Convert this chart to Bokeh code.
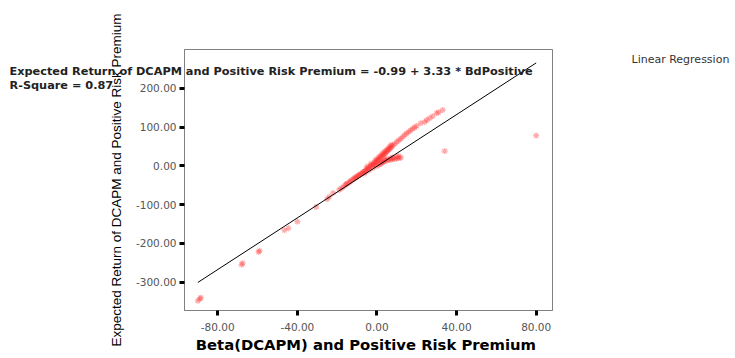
from bokeh.plotting import figure
from bokeh.models import Range1d, FixedTicker, NumeralTickFormatter, Label, ColumnDataSource
from bokeh.embed import file_html
from bokeh.resources import INLINE

# ---- data ----
beta_x = [
    -90, -89, -88.5, -68, -67.5, -59.5, -59, -46.5, -44.5, -40, -30.5, -25, -24, -22,
    -19, -18, -17, -16, -15.5, -15, -14, -13.5, -13, -12, -11.5, -11, -10.5, -10,
    -9.5, -9, -8.5, -8, -7.5, -7, -6.5, -6, -5.5, -5, -4.5, -4, -3.5, -3, -2.5, -2,
    -1.5, -1, -0.5, 0, 0.5, 1, 1.5, 2, 2.5, 3, 3.5, 4, 4.5, 5, 5.5, 6, 6.5, 7, 7.5,
    8, 9, 10, 11, 12, 13, 14, 15, 16, 17, 18, 19, 20,
    -6, -4, -2, 0, 2, -1, 1, 3, 4,
    -3, -1, 1, 3, 5, -5, 0, 2, 4, 6, 7,
    2, 3, 4, 5, 6, 7, 8, 9, 10, 11, 12, 8, 10, 11, 5, 7,
    22, 24, 25, 26.5, 28, 30, 31, 33,
    34, 80,
]
expected_y = [
    -348, -343, -340, -255, -251, -222, -219, -166, -161, -144, -106, -86, -80, -70,
    -62, -58, -55, -50, -47, -46, -43, -40, -38, -35, -33, -30, -30, -27,
    -26, -24, -22, -21, -18, -17, -15, -13, -10, -9, -6, -5, -2, 0, 2, 3,
    6, 8, 10, 12, 14, 17, 19, 22, 24, 27, 29, 32, 34, 37, 40, 42, 45, 47, 50,
    53, 57, 62, 66, 70, 75, 80, 84, 88, 92, 96, 99, 103,
    -19, -12, -6, -1, 5, 2, 3, 10, 15,
    6, 14, 23, 33, 42, -2, 18, 28, 38, 48, 54,
    8, 10, 12, 14, 15, 16, 17, 18, 19, 20, 21, 22, 24, 25, 18, 20,
    110, 113, 118, 123, 128, 136, 138, 144,
    38, 78,
]
intercept = -0.99
slope = 3.33
r_square = "0.87"
x_ticks = [-80, -40, 0, 40, 80]
y_ticks = [-300, -200, -100, 0, 100, 200]

W, H = 733, 355
p = figure(width=W, height=H, output_backend="svg", toolbar_location=None,
           x_range=Range1d(-96.7, 88.2), y_range=Range1d(-373, 300),
           min_border_left=184, min_border_right=181, min_border_top=49,
           min_border_bottom=39)
p.background_fill_color = "white"
p.border_fill_color = "white"
p.outline_line_color = "#808080"
p.outline_line_width = 1
p.grid.visible = False

src = ColumnDataSource(dict(x=beta_x, y=expected_y))
p.scatter("x", "y", source=src, marker="asterisk", size=6,
          line_color="#ff3030", line_alpha=0.4, line_width=1.3)

lx = [min(beta_x), max(beta_x)]
ly = [intercept + slope * v for v in lx]
p.line(lx, ly, line_color="black", line_width=1)

for ax in (p.xaxis[0], p.yaxis[0]):
    ax.axis_line_color = "#808080"
    ax.major_tick_line_color = "black"
    ax.major_tick_line_width = 3
    ax.major_tick_out = 5
    ax.major_tick_in = 0
    ax.minor_tick_line_color = None
    ax.major_label_text_font = "DejaVu Sans"
    ax.major_label_text_font_size = "10.5px"
    ax.major_label_text_color = "#555555"
    ax.formatter = NumeralTickFormatter(format="0.00")

p.xaxis.ticker = FixedTicker(ticks=x_ticks)
p.yaxis.ticker = FixedTicker(ticks=y_ticks)
p.xaxis.major_label_standoff = 7
p.yaxis.major_label_standoff = 3

p.xaxis.axis_label = "Beta(DCAPM) and  Positive Risk Premium"
p.xaxis.axis_label_text_font = "DejaVu Sans"
p.xaxis.axis_label_text_font_style = "bold"
p.xaxis.axis_label_text_font_size = "14.8px"
p.xaxis.axis_label_text_color = "black"
p.xaxis.axis_label_standoff = 2

p.yaxis.axis_label = "Expected Return of DCAPM and Positive Risk Premium"
p.yaxis.axis_label_text_font = "Liberation Sans"
p.yaxis.axis_label_text_font_style = "normal"
p.yaxis.axis_label_text_font_size = "13.5px"
p.yaxis.axis_label_text_color = "black"
p.yaxis.axis_label_standoff = 9

# annotation texts, placed in side panels so that they are not clipped to the frame
eq = Label(x=9, y=71, x_units="canvas", y_units="canvas",
           text="Expected Return of DCAPM and Positive Risk Premium = %.2f + %.2f * BdPositive" % (intercept, slope),
           text_font="DejaVu Sans", text_font_style="bold", text_font_size="11.3px",
           text_color="#222222", text_baseline="middle")
rs = Label(x=9, y=85, x_units="canvas", y_units="canvas",
           text="R-Square = " + r_square,
           text_font="DejaVu Sans", text_font_style="bold", text_font_size="11.3px",
           text_color="#222222", text_baseline="middle")
lr = Label(x=631, y=59, x_units="canvas", y_units="canvas",
           text="Linear Regression",
           text_font="DejaVu Sans", text_font_size="11px",
           text_color="#333333", text_baseline="middle")
p.add_layout(eq, "above")
p.add_layout(rs, "above")
p.add_layout(lr, "right")

open("out.html", "w").write(file_html(p, INLINE))
